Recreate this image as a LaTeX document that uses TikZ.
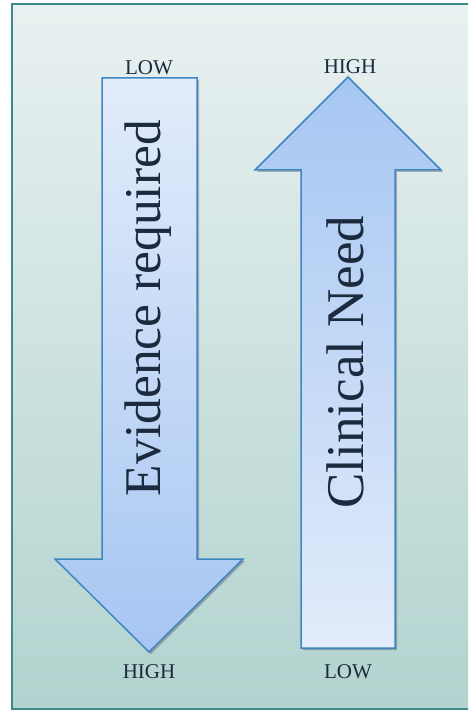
\documentclass[tikz,border=0pt]{standalone}
\usepackage{fontspec}
\setmainfont{Liberation Serif}
\usetikzlibrary{shadows}
\definecolor{bgtop}{HTML}{E9F1F1}
\definecolor{bgbot}{HTML}{B2D3CF}
\definecolor{framec}{HTML}{3E8A88}
\definecolor{arrlight}{HTML}{E2ECFB}
\definecolor{arrdark}{HTML}{A6C6F2}
\definecolor{arredge}{HTML}{3F86C2}
\definecolor{textc}{HTML}{1B2A3C}
\tikzset{
  bigarrow/.style={draw=arredge, line width=1.5pt, line join=miter,
    drop shadow={shadow xshift=2pt, shadow yshift=-2pt, opacity=0.25, fill=black}},
  bigtext/.style={rotate=90, anchor=base, inner sep=0pt, text=textc},
  endlabel/.style={anchor=base, inner sep=0pt, text=textc, font=\fontsize{21}{24}\selectfont}
}
\begin{document}
\begin{tikzpicture}[x=1pt,y=-1pt]
\useasboundingbox (0,0) rectangle (468,711);
\begin{scope}
  \clip (0,0) rectangle (468,711);
  \shade[top color=bgtop, bottom color=bgbot] (12,4) rectangle (480,709);
  \draw[framec, line width=2pt] (12,4) rectangle (480,709);
\end{scope}
% left arrow (down)
\path[bigarrow, top color=arrlight, bottom color=arrdark]
  (102,78) -- (197,78) -- (197,559) -- (243,559) -- (149,652) -- (55,559) -- (102,559) -- cycle;
% right arrow (up)
\path[bigarrow, top color=arrdark, bottom color=arrlight]
  (301,648) -- (395,648) -- (395,170) -- (441,170) -- (348,77) -- (255,170) -- (301,170) -- cycle;
\node[bigtext, font=\fontsize{51.5}{60}\selectfont] (ev) at (160,308) {Evidence required};
\node[bigtext, font=\fontsize{53}{60}\selectfont] (cn) at (363,362) {Clinical Need};
\node[endlabel] (lowtop) at (149,75) {LOW};
\node[endlabel] (hightop) at (350,74) {HIGH};
\node[endlabel] (highbot) at (149,678) {HIGH};
\node[endlabel] (lowbot) at (348,678) {LOW};
\end{tikzpicture}
\end{document}
